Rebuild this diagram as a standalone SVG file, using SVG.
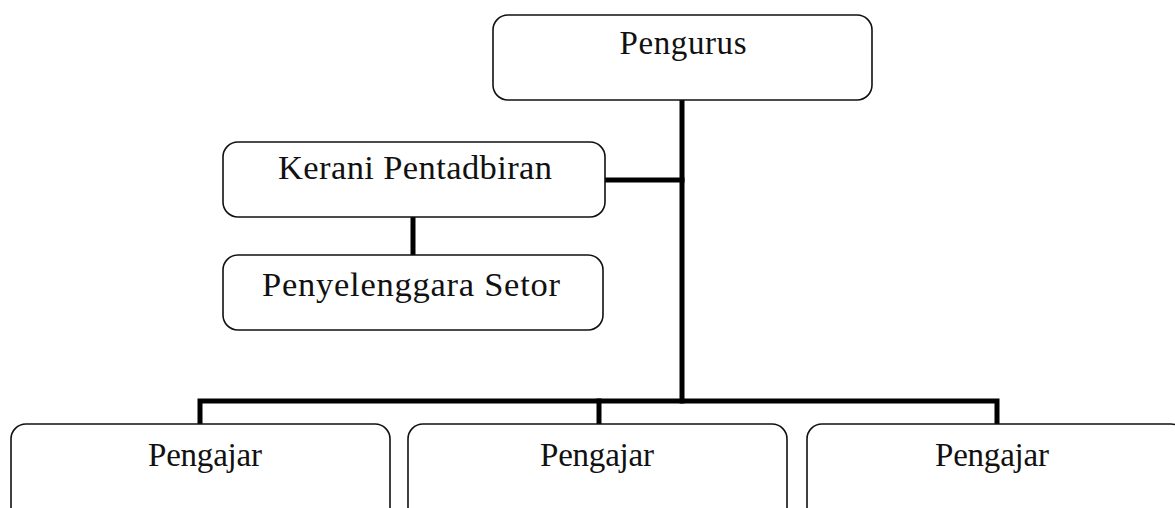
<svg xmlns="http://www.w3.org/2000/svg" width="1175" height="508" viewBox="0 0 1175 508">
  <style>
    .box { fill: #ffffff; stroke: #111111; stroke-width: 1.6; }
    .label { font-family: "Liberation Serif", "Times New Roman", serif; font-size: 33px; fill: #111111; text-anchor: middle; }
    .wide { font-size: 34.5px; }
    .link { fill: none; stroke: #000000; stroke-width: 5; stroke-linecap: square; }
  </style>
  <rect width="1175" height="508" fill="#ffffff"/>

  <g id="connectors">
    <line class="link" x1="682" y1="101" x2="682" y2="401"/>
    <line class="link" x1="606" y1="180" x2="682" y2="180"/>
    <line class="link" x1="413" y1="218" x2="413" y2="254"/>
    <polyline class="link" points="200,423 200,401 997,401 997,423"/>
    <line class="link" x1="599" y1="401" x2="599" y2="423"/>
  </g>

  <g id="pengurus">
    <rect class="box" x="493" y="15" width="379" height="85" rx="15"/>
    <text class="label" x="683" y="54" textLength="127" lengthAdjust="spacing">Pengurus</text>
  </g>

  <g id="kerani-pentadbiran">
    <rect class="box" x="223" y="142" width="382" height="75" rx="15"/>
    <text class="label wide" x="415" y="179" textLength="274" lengthAdjust="spacing">Kerani Pentadbiran</text>
  </g>

  <g id="penyelenggara-setor">
    <rect class="box" x="223" y="255" width="380" height="75" rx="15"/>
    <text class="label wide" x="411" y="296" textLength="298" lengthAdjust="spacing">Penyelenggara Setor</text>
  </g>

  <g id="pengajar-1">
    <rect class="box" x="11" y="424" width="379" height="110" rx="15"/>
    <text class="label" x="205" y="466" textLength="114" lengthAdjust="spacing">Pengajar</text>
  </g>

  <g id="pengajar-2">
    <rect class="box" x="408" y="424" width="379" height="110" rx="15"/>
    <text class="label" x="597" y="466" textLength="114" lengthAdjust="spacing">Pengajar</text>
  </g>

  <g id="pengajar-3">
    <rect class="box" x="807" y="424" width="379" height="110" rx="15"/>
    <text class="label" x="992" y="466" textLength="114" lengthAdjust="spacing">Pengajar</text>
  </g>
</svg>
